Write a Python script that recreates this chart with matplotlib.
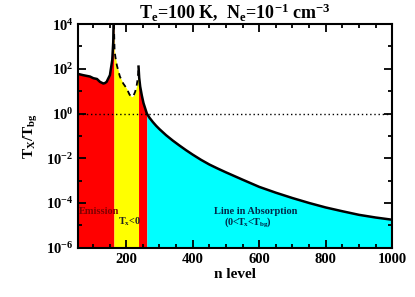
import numpy as np
import matplotlib
matplotlib.use("Agg")
import matplotlib.pyplot as plt

plt.rcParams['font.family'] = 'Liberation Serif'
plt.rcParams['font.weight'] = 'bold'
plt.rcParams['mathtext.fontset'] = 'custom'
plt.rcParams['mathtext.rm'] = 'Liberation Serif:bold'
plt.rcParams['mathtext.it'] = 'Liberation Serif:bold'
plt.rcParams['mathtext.bf'] = 'Liberation Serif:bold'
plt.rcParams['mathtext.default'] = 'bf'

# emission part, below the first divergence
nEmis = [55, 70, 91, 101, 112, 121, 131, 136, 141, 151, 158, 161, 163]
tEmis = [59, 52, 45, 38, 35, 26, 22, 23, 26, 52, 250, 1600, 1e5]

# Tx<0 part, |Tx/Tbg| drawn dashed
nNeg = [163, 165, 168, 172, 181, 191, 201, 210, 216, 222, 227, 232, 234, 236, 237]
tNeg = [1e4, 600, 300, 140, 45, 22, 13.5, 7, 5.6, 6.3, 9.5, 20, 32, 63, 125]

# after the second divergence
nPos = [237, 239, 242, 247, 252, 262, 270, 280, 290, 300, 320, 340, 360, 380,
        400, 425, 450, 475, 500, 550, 600, 650, 700, 750, 800, 850, 900, 950, 1000]
tPos = [125, 40, 16, 6.3, 2.9, 1.0, 0.646, 0.417, 0.282, 0.2, 0.107, 0.0617,
        0.0372, 0.0229, 0.0145, 0.0085, 0.00525, 0.00347, 0.00234, 1.10e-3,
        5.25e-4, 2.88e-4, 1.66e-4, 1.0e-4, 6.3e-5, 4.27e-5, 2.95e-5, 2.24e-5, 1.78e-5]

nSplit = 262
yBottom = 1e-7

nPos = np.array(nPos)
tPos = np.array(tPos)
red2 = nPos <= nSplit
cyan = nPos >= nSplit

fig = plt.figure(figsize=(4.15, 2.97), dpi=100)
ax = fig.add_axes([0.188, 0.166, 0.757, 0.753])

ax.fill_between(nEmis, yBottom, tEmis, color="red", lw=0)
ax.fill_between(nNeg, yBottom, tNeg, color="yellow", lw=0)
ax.fill_between(nPos[red2], yBottom, tPos[red2], color="red", lw=0)
ax.fill_between(nPos[cyan], yBottom, tPos[cyan], color="cyan", lw=0)

ax.axhline(1.0, color="black", ls=(0, (1, 2)), lw=1)
ax.plot(nEmis, tEmis, color="black", lw=1.8)
ax.plot(nNeg, tNeg, color="black", lw=1.3, ls=(0, (3, 2.5)))
ax.plot(nPos, tPos, color="black", lw=1.8)

ax.set_yscale("log")
ax.set_xlim(55, 1000)
ax.set_ylim(1e-6, 1e4)

ax.set_xticks([200, 400, 600, 800, 1000])
ax.set_xticks(np.arange(100, 1000, 50), minor=True)
ax.set_yticks([1e-6, 1e-4, 1e-2, 1e0, 1e2, 1e4])
ax.set_yticklabels(["10$^{-6}$", "10$^{-4}$", "10$^{-2}$", "10$^{0}$", "10$^{2}$", "10$^{4}$"])
ax.set_yticks([1e-5, 1e-3, 1e-1, 1e1, 1e3], minor=True)
ax.yaxis.set_minor_formatter(matplotlib.ticker.NullFormatter())

ax.tick_params(which="both", direction="in", top=True, right=True, labelsize=10.5, width=1.3)
ax.tick_params(which="major", length=6)
ax.tick_params(which="minor", length=3)
for s in ax.spines.values():
    s.set_linewidth(1.5)

ax.set_xlabel("n level", fontsize=11, fontweight="bold", labelpad=2)
ax.set_ylabel("T$_{X}$/T$_{bg}$", fontsize=11, fontweight="bold", labelpad=4)
ax.set_title("T$_{e}$=100 K,  N$_{e}$=10$^{-1}$ cm$^{-3}$", fontsize=13, fontweight="bold", pad=4)

ax.text(59, 4.2e-5, "Emission", fontsize=7.5, color="#800000", va="center")
ax.text(176, 1.4e-5, "T$_{x}$<0", fontsize=7.3, color="#202020", va="center")
ax.text(590, 4.2e-5, "Line in Absorption", fontsize=7.5, color="#002a4a", ha="center", va="center")
ax.text(565, 1.4e-5, "(0<T$_{x}$<T$_{bg}$)", fontsize=7.3, color="#002a4a", ha="center", va="center")

fig.savefig("out.png", dpi=100)
